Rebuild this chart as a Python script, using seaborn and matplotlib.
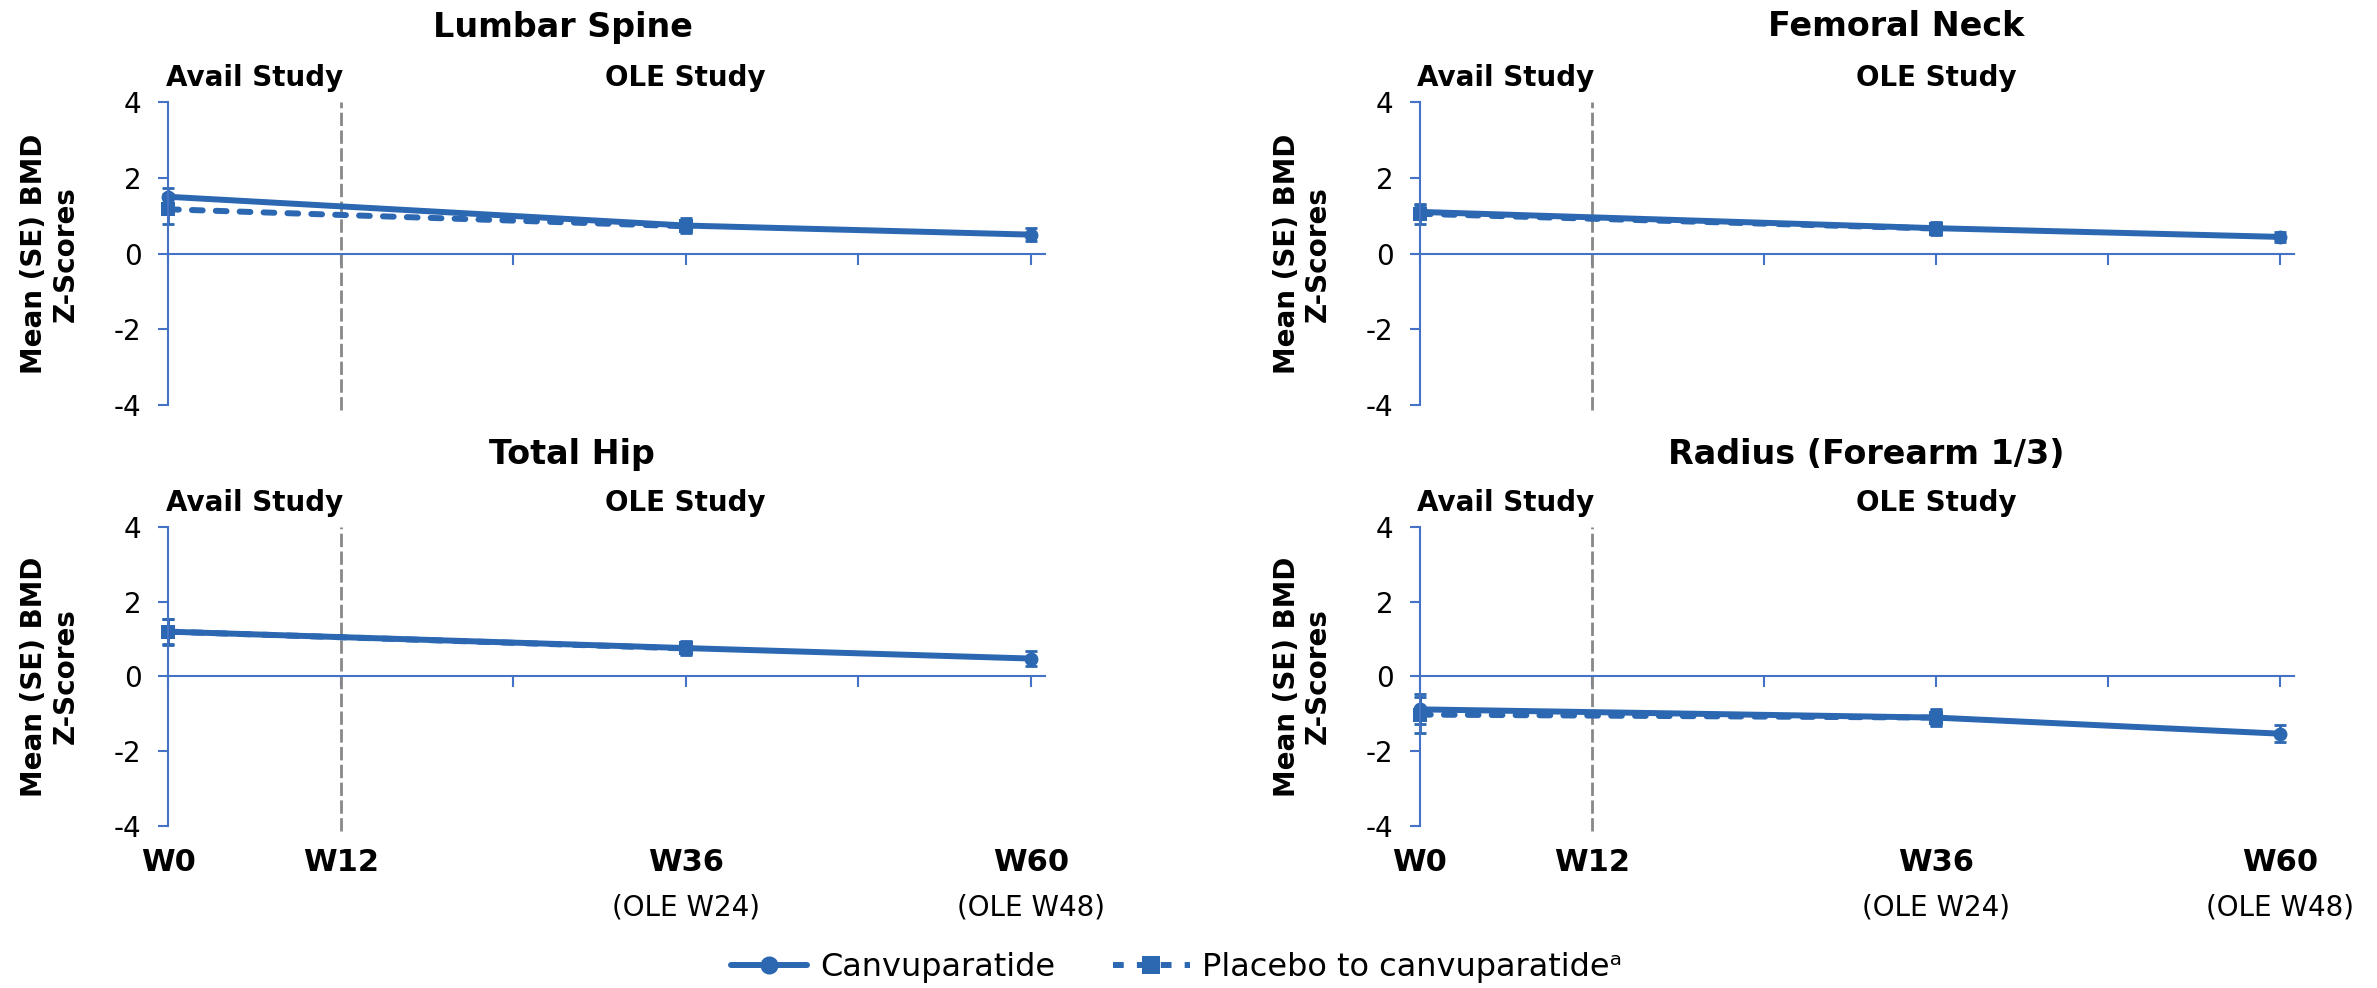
import pandas as pd
import matplotlib.pyplot as plt
import matplotlib.transforms as mtrans
import seaborn as sns

# Data
weeks_canv = [0, 36, 60]
weeks_plac = [0, 36]

panel_names = ["Lumbar Spine", "Femoral Neck", "Total Hip", "Radius (Forearm 1/3)"]

lumbar_canv = [1.50, 0.74, 0.50]
lumbar_canv_se = [0.22, 0.20, 0.18]
lumbar_plac = [1.17, 0.72]
lumbar_plac_se = [0.40, 0.15]

femoral_canv = [1.10, 0.67, 0.44]
femoral_canv_se = [0.18, 0.17, 0.14]
femoral_plac = [1.05, 0.66]
femoral_plac_se = [0.26, 0.15]

hip_canv = [1.20, 0.76, 0.48]
hip_canv_se = [0.35, 0.18, 0.19]
hip_plac = [1.20, 0.75]
hip_plac_se = [0.33, 0.15]

radius_canv = [-0.88, -1.10, -1.53]
radius_canv_se = [0.40, 0.22, 0.22]
radius_plac = [-1.02, -1.10]
radius_plac_se = [0.48, 0.20]

x_ticks = [0, 12, 24, 36, 48, 60]
x_labels = ["W0", "W12", "W36", "W60"]
x_label_pos = [0, 12, 36, 60]
ole_labels = ["(OLE W24)", "(OLE W48)"]
y_ticks = [-4, -2, 0, 2, 4]

CANV = "Canvuparatide"
PLAC = "Placebo to canvuparatideᵃ"

canv_vals = [lumbar_canv, femoral_canv, hip_canv, radius_canv]
canv_ses = [lumbar_canv_se, femoral_canv_se, hip_canv_se, radius_canv_se]
plac_vals = [lumbar_plac, femoral_plac, hip_plac, radius_plac]
plac_ses = [lumbar_plac_se, femoral_plac_se, hip_plac_se, radius_plac_se]

# layout
blue = "#2C67B1"
axis_blue = "#4472C4"
axes_rects = [
    [0.0707, 0.590, 0.369, 0.3067],
    [0.5974, 0.590, 0.3677, 0.3067],
    [0.0707, 0.164, 0.369, 0.3026],
    [0.5974, 0.164, 0.3677, 0.3026],
]
title_xy = [(563 / 2377, 1 - 27 / 988), (1896 / 2377, 1 - 27 / 988),
            (572 / 2377, 1 - 454 / 988), (1866 / 2377, 1 - 454 / 988)]

sns.set_theme(style="white")
plt.rcParams["font.family"] = ["DejaVu Sans"]
plt.rcParams["text.color"] = "black"
plt.rcParams["axes.labelcolor"] = "black"
plt.rcParams["xtick.color"] = "black"
plt.rcParams["ytick.color"] = "black"

fig = plt.figure(figsize=(23.77, 9.88), dpi=100)

handles, labels = None, None
for i in range(4):
    ax = fig.add_axes(axes_rects[i])

    df = pd.concat([
        pd.DataFrame({"Week": weeks_canv, "Value": canv_vals[i], "Group": CANV}),
        pd.DataFrame({"Week": weeks_plac, "Value": plac_vals[i], "Group": PLAC}),
    ])

    # error bars
    ax.errorbar(weeks_canv, canv_vals[i], yerr=canv_ses[i], fmt="none",
                ecolor=blue, elinewidth=2, capsize=4, capthick=2, zorder=1.5, clip_on=False)
    ax.errorbar(weeks_plac, plac_vals[i], yerr=plac_ses[i], fmt="none",
                ecolor=blue, elinewidth=2, capsize=4, capthick=2, zorder=1.5, clip_on=False)

    sns.lineplot(data=df, x="Week", y="Value", hue="Group", style="Group",
                 hue_order=[CANV, PLAC], style_order=[CANV, PLAC],
                 palette={CANV: blue, PLAC: blue},
                 markers={CANV: "o", PLAC: "s"},
                 dashes={CANV: "", PLAC: (1.8, 2.2)},
                 linewidth=4.3, markersize=10, markeredgewidth=0,
                 ax=ax, legend=(i == 0))
    for ln in ax.get_lines():
        ln.set_clip_on(False)
        ln.set_dash_capstyle("round")
        ln.set_solid_capstyle("round")

    if i == 0:
        handles, labels = ax.get_legend_handles_labels()
        ax.get_legend().remove()

    # W12 divider
    ax.axvline(12, ymin=-0.016, ymax=1.0, color="#888888", lw=2,
               ls=(0, (4.8, 1.6)), clip_on=False, zorder=1)

    ax.set_xlim(0, 61)
    ax.set_ylim(-4, 4)

    for s in ["top", "right"]:
        ax.spines[s].set_visible(False)
    ax.spines["bottom"].set_position(("data", 0))
    ax.spines["bottom"].set_color(axis_blue)
    ax.spines["bottom"].set_linewidth(1.5)
    ax.spines["left"].set_color(axis_blue)
    ax.spines["left"].set_linewidth(1.5)

    ax.set_xticks(x_ticks)
    ax.tick_params(axis="x", direction="out", length=8, width=1.5, color=axis_blue,
                   bottom=True, labelbottom=False)
    ax.set_yticks(y_ticks)
    ax.set_yticklabels([str(v) for v in y_ticks])
    ax.tick_params(axis="y", direction="out", length=7, width=1.5, color=axis_blue,
                   left=True, labelsize=20, pad=12, labelcolor="black")
    ax.set_xlabel("")
    ax.set_ylabel("Mean (SE) BMD\nZ-Scores", fontsize=20, fontweight="bold",
                  linespacing=1.15, va="center", color="black")
    ax.yaxis.set_label_coords(-118 / 877, 0.5)

    trans = mtrans.blended_transform_factory(ax.transData, ax.transAxes)
    ax.text(6, 1.08, "Avail Study", transform=trans, ha="center", va="center",
            fontsize=20, fontweight="bold", color="black")
    ax.text(36, 1.08, "OLE Study", transform=trans, ha="center", va="center",
            fontsize=20, fontweight="bold", color="black")

    fig.text(title_xy[i][0], title_xy[i][1], panel_names[i], ha="center", va="center",
             fontsize=24, fontweight="bold", color="black")

    if i >= 2:
        secax = ax.secondary_xaxis("bottom")
        secax.spines["bottom"].set_visible(False)
        secax.set_xticks(x_label_pos)
        secax.set_xticklabels(x_labels, fontsize=22, fontweight="bold", color="black")
        secax.tick_params(length=0, pad=16)
        ax.text(36, -0.272, ole_labels[0], transform=trans, ha="center", va="center",
                fontsize=20, color="black")
        ax.text(60, -0.272, ole_labels[1], transform=trans, ha="center", va="center",
                fontsize=20, color="black")

# thicker legend keys like the reference
for h in handles:
    h.set_linewidth(4.3)
    h.set_markersize(13)
    h.set_markeredgewidth(0)
    h.set_dash_capstyle("butt")

fig.legend(handles, labels, loc="center", bbox_to_anchor=(0.495, 0.021), ncol=2,
           frameon=False, fontsize=23, handlelength=2.4, columnspacing=1.8,
           handletextpad=0.4, labelcolor="black")

fig.savefig("out.png", dpi=100)
